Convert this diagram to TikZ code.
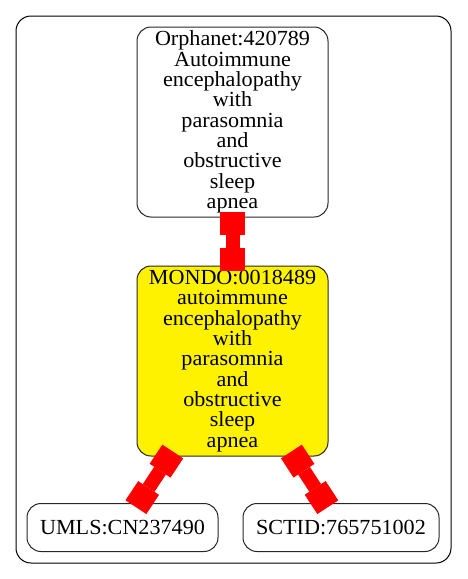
\documentclass[tikz,border=0pt]{standalone}
\usepackage{fontspec}
\setmainfont{Liberation Serif}[FakeStretch=1.03]
\usetikzlibrary{arrows.meta}
\begin{document}
\begin{tikzpicture}[x=1pt,y=-1pt,
  term/.style={draw=black!85, line width=1pt, rounded corners=14pt, align=center,
    inner sep=0pt, font=\fontsize{21.5}{20.3}\selectfont},
  bignode/.style={term, minimum width=191pt, minimum height=190pt},
  smallnode/.style={term, minimum height=48pt},
  conn/.style={draw=red, line width=14pt,
    {Square[length=23pt,width=25pt,line width=0pt,fill=red]}-{Square[length=23pt,width=25pt,line width=0pt,fill=red]},
    shorten <=-6pt, shorten >=-5pt}]
\useasboundingbox (0,0) rectangle (467,579);
\draw[line width=1pt, rounded corners=15pt] (16,16) rectangle (451,563);
\node[bignode] (orpha) at (232.5,122) {Orphanet:420789\\Autoimmune\\encephalopathy\\with\\parasomnia\\and\\obstructive\\sleep\\apnea};
\node[bignode, fill=yellow] (mondo) at (232.5,361) {MONDO:0018489\\autoimmune\\encephalopathy\\with\\parasomnia\\and\\obstructive\\sleep\\apnea};
\node[smallnode, minimum width=191pt] (umls) at (122.5,527.5) {UMLS:CN237490};
\node[smallnode, minimum width=196pt] (sctid) at (341,527.5) {SCTID:765751002};
\draw[conn] (orpha) -- (mondo);
\draw[conn] (mondo) -- (umls);
\draw[conn] (mondo) -- (sctid);
\end{tikzpicture}
\end{document}
